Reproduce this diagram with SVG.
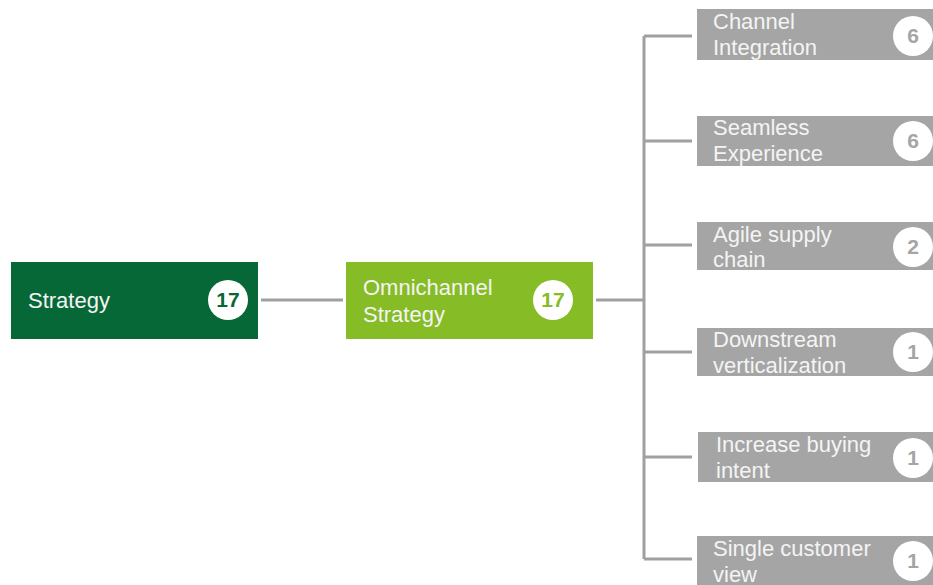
<svg xmlns="http://www.w3.org/2000/svg" width="933" height="585" viewBox="0 0 933 585">
  <style>
    .lbl { font-family: "Liberation Sans", Arial, sans-serif; font-size: 22px; fill: #f4f4f4; }
    .num { font-family: "Liberation Sans", Arial, sans-serif; font-size: 21px; font-weight: bold; text-anchor: middle; }
    .badge { fill: #ffffff; }
    .leaf { fill: #a5a5a5; }
    .conn { stroke: #a0a0a0; stroke-width: 3; fill: none; }
  </style>
  <rect width="933" height="585" fill="#ffffff"/>

  <g id="connectors">
    <path class="conn" d="M261 300 H343"/>
    <path class="conn" d="M596 300 H644"/>
    <path class="conn" d="M644 36 V559"/>
    <path class="conn" d="M644 36 H692"/>
    <path class="conn" d="M644 141 H692"/>
    <path class="conn" d="M644 245 H692"/>
    <path class="conn" d="M644 352 H692"/>
    <path class="conn" d="M644 457 H692"/>
    <path class="conn" d="M644 559 H692"/>
  </g>

  <g id="strategy">
    <rect x="11" y="262" width="247" height="77" fill="#076837"/>
    <text class="lbl" x="28" y="308">Strategy</text>
    <circle class="badge" cx="228" cy="300" r="20"/>
    <text class="num" x="228" y="307" fill="#076837">17</text>
  </g>

  <g id="omnichannel">
    <rect x="346" y="262" width="247" height="77" fill="#86bc25"/>
    <text class="lbl" x="363" y="295">Omnichannel</text>
    <text class="lbl" x="363" y="322">Strategy</text>
    <circle class="badge" cx="553" cy="300" r="20"/>
    <text class="num" x="553" y="307" fill="#86bc25">17</text>
  </g>

  <g id="channel-integration">
    <rect class="leaf" x="697" y="9" width="240" height="51"/>
    <text class="lbl" x="713" y="29">Channel</text>
    <text class="lbl" x="713" y="55">Integration</text>
    <circle class="badge" cx="913" cy="36" r="20"/>
    <text class="num" x="913" y="43" fill="#a5a5a5">6</text>
  </g>

  <g id="seamless-experience">
    <rect class="leaf" x="697" y="116" width="240" height="50"/>
    <text class="lbl" x="713" y="135">Seamless</text>
    <text class="lbl" x="713" y="161">Experience</text>
    <circle class="badge" cx="913" cy="141" r="20"/>
    <text class="num" x="913" y="148" fill="#a5a5a5">6</text>
  </g>

  <g id="agile-supply-chain">
    <rect class="leaf" x="697" y="222" width="240" height="48"/>
    <text class="lbl" x="713" y="242">Agile supply</text>
    <text class="lbl" x="713" y="267">chain</text>
    <circle class="badge" cx="913" cy="247" r="20"/>
    <text class="num" x="913" y="254" fill="#a5a5a5">2</text>
  </g>

  <g id="downstream-verticalization">
    <rect class="leaf" x="697" y="328" width="240" height="48"/>
    <text class="lbl" x="713" y="347">Downstream</text>
    <text class="lbl" x="713" y="373">verticalization</text>
    <circle class="badge" cx="913" cy="352" r="20"/>
    <text class="num" x="913" y="359" fill="#a5a5a5">1</text>
  </g>

  <g id="increase-buying-intent">
    <rect class="leaf" x="698" y="432" width="240" height="50"/>
    <text class="lbl" x="716" y="452">Increase buying</text>
    <text class="lbl" x="716" y="478">intent</text>
    <circle class="badge" cx="913" cy="458" r="20"/>
    <text class="num" x="913" y="465" fill="#a5a5a5">1</text>
  </g>

  <g id="single-customer-view">
    <rect class="leaf" x="697" y="536" width="240" height="52"/>
    <text class="lbl" x="713" y="556">Single customer</text>
    <text class="lbl" x="713" y="582">view</text>
    <circle class="badge" cx="913" cy="561" r="20"/>
    <text class="num" x="913" y="568" fill="#a5a5a5">1</text>
  </g>
</svg>
